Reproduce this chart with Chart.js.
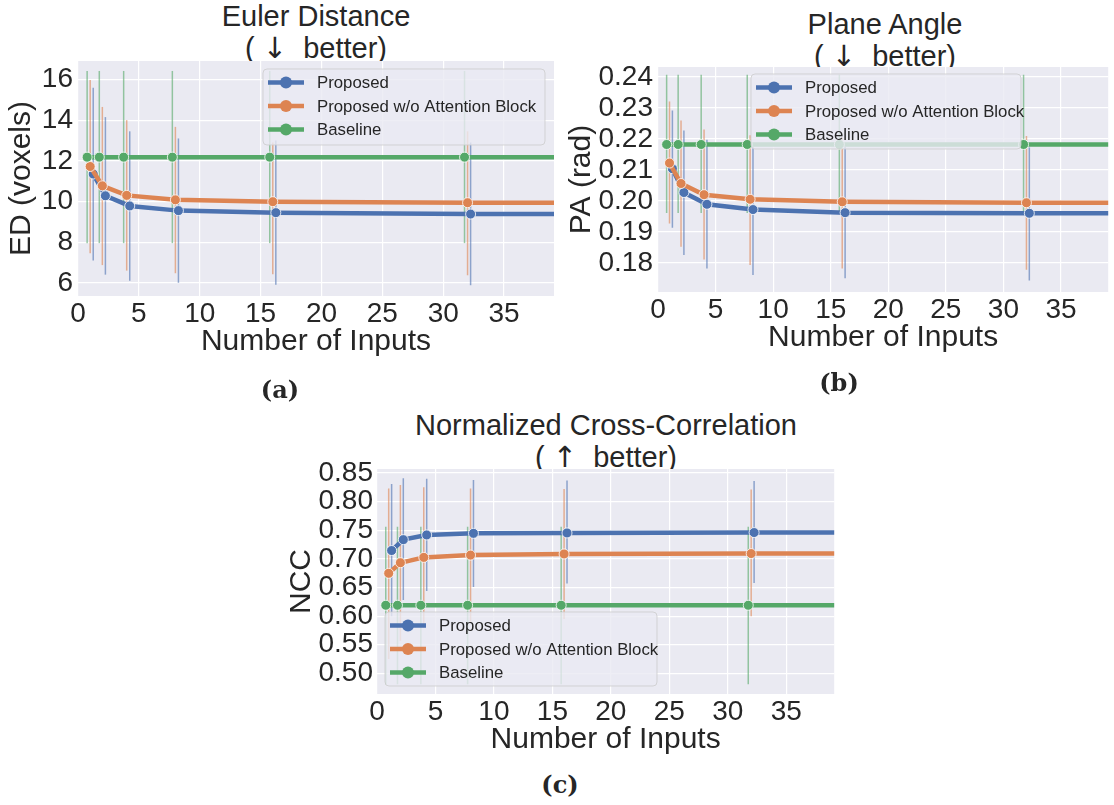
<!doctype html>
<html>
<head>
<meta charset="utf-8">
<title>Number of Inputs: ED / PA / NCC</title>
<script src="https://cdn.jsdelivr.net/npm/chart.js@4.4.0/dist/chart.umd.min.js"></script>
<style>
	body {
		margin: 0;
		background: #fff;
		width: 1114px;
		height: 805px;
		position: relative;
		overflow: hidden;
		font-family: "Liberation Sans", Arial, sans-serif;
		color: #262626;
	}

	canvas {
		position: absolute;
	}

	.title {
		position: absolute;
		font-size: 29px;
		line-height: 32px;
		text-align: center;
		white-space: pre;
		transform: translateX(-50%);
	}

	.title .arw {
		font-family: "DejaVu Sans", sans-serif;
	}

	.cap {
		position: absolute;
		font-family: "DejaVu Serif", serif;
		font-weight: bold;
		font-size: 24px;
		transform: translate(-50%, -50%);
	}
</style>
</head>
<body>
<div class="title" style="left:316px; top:0px">Euler Distance
( <span class="arw">↓</span>  better)</div>
<div class="title" style="left:885px; top:8px">Plane Angle
( <span class="arw">↓</span>  better)</div>
<div class="title" style="left:606px; top:409px">Normalized Cross-Correlation
( <span class="arw">↑</span>  better)</div>

<canvas id="ed" width="560" height="370" style="left:0px; top:0px"></canvas>
<canvas id="pa" width="554" height="370" style="left:560px; top:0px"></canvas>
<canvas id="ncc" width="560" height="370" style="left:280px; top:390px"></canvas>

<div class="cap" style="left:280px; top:389px">(a)</div>
<div class="cap" style="left:839px; top:382px">(b)</div>
<div class="cap" style="left:560px; top:784px">(c)</div>

<script>
"use strict";
// x positions (points are dodged a little around 1, 2, 4, ... 32; 64 lies past the axis edge)
const xProposed = [1.25, 2.25, 4.25, 8.25, 16.25, 32.25, 64.25];
const xNoAttn = [1, 2, 4, 8, 16, 32, 64];
const xBaseline = [0.75, 1.75, 3.75, 7.75, 15.75, 31.75, 63.75];
const xTicks = [0, 5, 10, 15, 20, 25, 30, 35];

const labels = ["Proposed", "Proposed w/o Attention Block", "Baseline"];

// Euler distance (voxels)
const edProposed = [11.35, 10.28, 9.78, 9.55, 9.45, 9.38, 9.37];
const edProposedLo = [7.1, 6.4, 6.1, 6.0, 5.9, 5.88, 5.88];
const edProposedHi = [15.6, 14.15, 13.45, 13.1, 13.0, 12.9, 12.9];
const edNoAttn = [11.72, 10.77, 10.3, 10.08, 9.99, 9.94, 9.93];
const edNoAttnLo = [7.45, 6.87, 6.6, 6.47, 6.42, 6.37, 6.37];
const edNoAttnHi = [15.97, 14.65, 14.0, 13.67, 12.9, 13.45, 13.45];
const edBaseline = [12.18, 12.18, 12.18, 12.18, 12.18, 12.18, 12.18];
const edBaselineLo = [7.95, 7.95, 7.95, 7.95, 7.95, 7.95, 7.95];
const edBaselineHi = [16.42, 16.42, 16.42, 16.42, 16.42, 16.42, 16.42];
const edTicks = [6, 8, 10, 12, 14, 16];

// plane angle (rad)
const paProposed = [0.2104, 0.2027, 0.1989, 0.1972, 0.1962, 0.1960, 0.1959];
const paProposedLo = [0.1913, 0.1825, 0.1782, 0.1761, 0.1750, 0.1743, 0.1743];
const paProposedHi = [0.2292, 0.2227, 0.2197, 0.2174, 0.2174, 0.2172, 0.2172];
const paNoAttn = [0.2122, 0.2056, 0.2020, 0.2005, 0.1997, 0.1994, 0.1993];
const paNoAttnLo = [0.1927, 0.1852, 0.1811, 0.1793, 0.1782, 0.1778, 0.1778];
const paNoAttnHi = [0.2321, 0.2259, 0.2230, 0.2212, 0.2205, 0.2209, 0.2209];
const paBaseline = [0.2182, 0.2182, 0.2182, 0.2182, 0.2182, 0.2182, 0.2182];
const paBaselineLo = [0.1961, 0.1961, 0.1961, 0.1961, 0.1961, 0.1961, 0.1961];
const paBaselineHi = [0.2407, 0.2407, 0.2407, 0.2407, 0.2407, 0.2407, 0.2407];
const paTicks = [0.18, 0.19, 0.20, 0.21, 0.22, 0.23, 0.24];

// normalized cross-correlation
const nccProposed = [0.7146, 0.7336, 0.7418, 0.7446, 0.7453, 0.7460, 0.7465];
const nccProposedLo = [0.600, 0.628, 0.644, 0.651, 0.657, 0.658, 0.658];
const nccProposedHi = [0.831, 0.841, 0.840, 0.838, 0.837, 0.836, 0.836];
const nccNoAttn = [0.6748, 0.6933, 0.7026, 0.7066, 0.7086, 0.7093, 0.7095];
const nccNoAttnLo = [0.525, 0.557, 0.580, 0.590, 0.595, 0.600, 0.600];
const nccNoAttnHi = [0.823, 0.829, 0.825, 0.823, 0.822, 0.821, 0.821];
const nccBaseline = [0.619, 0.619, 0.619, 0.619, 0.619, 0.619, 0.619];
const nccBaselineLo = [0.481, 0.481, 0.481, 0.481, 0.481, 0.481, 0.481];
const nccBaselineHi = [0.756, 0.756, 0.756, 0.756, 0.756, 0.756, 0.756];
const nccTicks = [0.50, 0.55, 0.60, 0.65, 0.70, 0.75, 0.80, 0.85];

const FONT = '"Liberation Sans", Arial, sans-serif';
const INK = "#262626";
const BLUE = "#4C72B0", ORANGE = "#DD8452", GREEN = "#55A868";
Chart.defaults.font.family = FONT;
Chart.defaults.color = INK;

const plotBg = {
	id: "plotBg",
	beforeDraw(chart) {
		const { ctx, chartArea: a } = chart;
		ctx.save();
		ctx.fillStyle = "#EAEAF2";
		ctx.fillRect(a.left, a.top, a.right - a.left, a.bottom - a.top);
		ctx.restore();
	}
};

const errorBars = {
	id: "errorBars",
	beforeDatasetsDraw(chart) {
		const { ctx, chartArea: a, scales } = chart;
		ctx.save();
		ctx.beginPath();
		ctx.rect(a.left, a.top, a.right - a.left, a.bottom - a.top);
		ctx.clip();
		ctx.lineWidth = 1.5;
		ctx.globalAlpha = 0.6;
		chart.data.datasets.forEach(ds => {
			ctx.strokeStyle = ds.borderColor;
			ds.errX.forEach((xv, i) => {
				const px = scales.x.getPixelForValue(xv);
				ctx.beginPath();
				ctx.moveTo(px, scales.y.getPixelForValue(ds.errLo[i]));
				ctx.lineTo(px, scales.y.getPixelForValue(ds.errHi[i]));
				ctx.stroke();
			});
		});
		ctx.restore();
	}
};

const boxLegend = {
	id: "boxLegend",
	afterDatasetsDraw(chart) {
		const o = chart.config.options.plugins.boxLegend;
		const { ctx } = chart;
		ctx.save();
		ctx.globalAlpha = 0.8;
		ctx.fillStyle = "#EAEAF2";
		ctx.strokeStyle = "#CCCCCC";
		ctx.lineWidth = 1;
		ctx.beginPath();
		ctx.roundRect(o.left, o.top, o.width, o.height, 4);
		ctx.fill();
		ctx.stroke();
		ctx.globalAlpha = 1;
		ctx.font = "16.8px " + FONT;
		ctx.textBaseline = "middle";
		chart.data.datasets.forEach((ds, i) => {
			const y = o.top + 13.5 + i * 23.5;
			ctx.strokeStyle = ds.borderColor;
			ctx.lineWidth = 4.5;
			ctx.beginPath();
			ctx.moveTo(o.left + 5, y);
			ctx.lineTo(o.left + 41, y);
			ctx.stroke();
			ctx.fillStyle = ds.borderColor;
			ctx.beginPath();
			ctx.arc(o.left + 23, y, 6, 0, Math.PI * 2);
			ctx.fill();
			ctx.fillStyle = INK;
			ctx.fillText(ds.label, o.left + 54, y + 1);
		});
		ctx.restore();
	}
};

function series(label, color, order, xs, ys, lo, hi) {
	return {
		label: label,
		order: order,
		data: xs.map((x, i) => ({ x: x, y: ys[i] })),
		errX: xs, errLo: lo, errHi: hi,
		borderColor: color,
		backgroundColor: color,
		borderWidth: 4.5,
		pointRadius: 5,
		pointHoverRadius: 5,
		pointBorderColor: "#ffffff",
		pointBorderWidth: 0.8,
		tension: 0
	};
}

function draw_panel(id, g) {
	const tickFont = { family: FONT, size: 28 };
	const titleFont = { family: FONT, size: 30 };
	new Chart(document.getElementById(id), {
		type: "line",
		data: {
			datasets: [
				series(labels[0], BLUE, 3, xProposed, g.proposed, g.proposedLo, g.proposedHi),
				series(labels[1], ORANGE, 2, xNoAttn, g.noAttn, g.noAttnLo, g.noAttnHi),
				series(labels[2], GREEN, 1, xBaseline, g.baseline, g.baselineLo, g.baselineHi)
			]
		},
		plugins: [plotBg, errorBars, boxLegend],
		options: {
			responsive: false,
			animation: false,
			events: [],
			layout: { padding: g.padding },
			plugins: {
				legend: { display: false },
				tooltip: { enabled: false },
				boxLegend: g.legend
			},
			scales: {
				x: {
					type: "linear",
					min: 0,
					max: 39.1,
					afterBuildTicks: s => { s.ticks = xTicks.map(v => ({ value: v })); },
					afterFit: s => { s.height = g.xHeight; },
					grid: { color: "#FFFFFF", lineWidth: 1.2, drawTicks: false },
					border: { display: false },
					ticks: { padding: 1, color: INK, font: tickFont, maxRotation: 0, autoSkip: false },
					title: {
						display: true, text: "Number of Inputs", color: INK, font: titleFont,
						padding: { top: 0, bottom: g.xTitlePad }
					}
				},
				y: {
					type: "linear",
					min: g.yMin,
					max: g.yMax,
					afterBuildTicks: s => { s.ticks = g.yTicks.map(v => ({ value: v })); },
					afterFit: s => { s.width = g.yWidth; },
					grid: { color: "#FFFFFF", lineWidth: 1.2, drawTicks: false },
					border: { display: false },
					ticks: {
						padding: g.yTickPad, color: INK, font: tickFont, autoSkip: false,
						callback: v => v.toFixed(g.decimals)
					},
					title: {
						display: true, text: g.yTitle, color: INK, font: titleFont,
						padding: { top: 4, bottom: 0 }
					}
				}
			}
		}
	});
}

draw_panel("ed", {
	proposed: edProposed, proposedLo: edProposedLo, proposedHi: edProposedHi,
	noAttn: edNoAttn, noAttnLo: edNoAttnLo, noAttnHi: edNoAttnHi,
	baseline: edBaseline, baselineLo: edBaselineLo, baselineHi: edBaselineHi,
	yTicks: edTicks, yMin: 5.35, yMax: 16.91, decimals: 0, yTitle: "ED (voxels)",
	padding: { left: 0, top: 61, right: 6, bottom: 0 },
	yWidth: 78, yTickPad: 5, xHeight: 74, xTitlePad: 10,
	legend: { left: 263, top: 69, width: 282, height: 76 }
});

draw_panel("pa", {
	proposed: paProposed, proposedLo: paProposedLo, proposedHi: paProposedHi,
	noAttn: paNoAttn, noAttnLo: paNoAttnLo, noAttnHi: paNoAttnHi,
	baseline: paBaseline, baselineLo: paBaselineLo, baselineHi: paBaselineHi,
	yTicks: paTicks, yMin: 0.1706, yMax: 0.2432, decimals: 2, yTitle: "PA (rad)",
	padding: { left: 0, top: 67, right: 1, bottom: 0 },
	yWidth: 98, yTickPad: 5, xHeight: 78, xTitlePad: 14,
	legend: { left: 191, top: 74, width: 270, height: 75 }
});

draw_panel("ncc", {
	proposed: nccProposed, proposedLo: nccProposedLo, proposedHi: nccProposedHi,
	noAttn: nccNoAttn, noAttnLo: nccNoAttnLo, noAttnHi: nccNoAttnHi,
	baseline: nccBaseline, baselineLo: nccBaselineLo, baselineHi: nccBaselineHi,
	yTicks: nccTicks, yMin: 0.464, yMax: 0.857, decimals: 2, yTitle: "NCC",
	padding: { left: 0, top: 79, right: 5, bottom: 0 },
	yWidth: 97, yTickPad: 4, xHeight: 66, xTitlePad: 2,
	legend: { left: 105, top: 222, width: 272, height: 74 }
});
</script>
</body>
</html>
